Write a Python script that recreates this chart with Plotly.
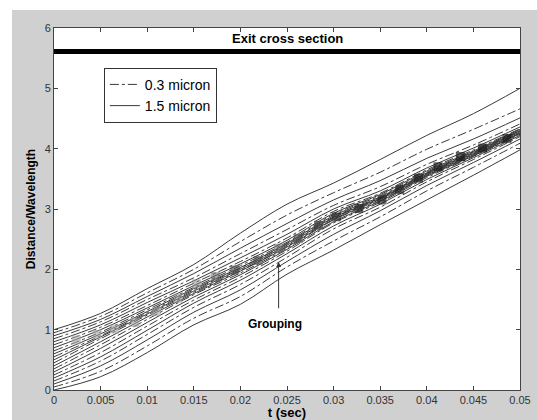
import plotly.graph_objects as go

t = [0, 0.005, 0.01, 0.015, 0.02, 0.025, 0.03, 0.035, 0.04, 0.045, 0.05]

# 1.5 micron paths (solid), top to bottom
solid_paths = [
    [1.00, 1.27, 1.68, 2.08, 2.60, 3.08, 3.43, 3.82, 4.22, 4.58, 5.00],
    [0.90, 1.17, 1.55, 1.93, 2.35, 2.76, 3.15, 3.47, 3.84, 4.16, 4.51],
    [0.80, 1.08, 1.45, 1.81, 2.19, 2.58, 3.00, 3.30, 3.68, 4.01, 4.36],
    [0.70, 1.00, 1.36, 1.73, 2.09, 2.48, 2.93, 3.24, 3.63, 3.96, 4.32],
    [0.60, 0.93, 1.30, 1.68, 2.03, 2.43, 2.89, 3.20, 3.60, 3.94, 4.30],
    [0.50, 0.88, 1.26, 1.64, 2.00, 2.40, 2.86, 3.18, 3.58, 3.92, 4.28],
    [0.40, 0.80, 1.21, 1.60, 1.97, 2.37, 2.83, 3.16, 3.56, 3.90, 4.26],
    [0.30, 0.69, 1.12, 1.54, 1.91, 2.33, 2.79, 3.13, 3.54, 3.88, 4.25],
    [0.20, 0.55, 0.99, 1.44, 1.82, 2.26, 2.72, 3.08, 3.49, 3.85, 4.22],
    [0.10, 0.40, 0.83, 1.29, 1.66, 2.13, 2.58, 2.97, 3.39, 3.77, 4.16],
    [0.00, 0.22, 0.62, 1.08, 1.42, 1.92, 2.32, 2.74, 3.15, 3.56, 3.98],
]

# 0.3 micron paths (dash-dot), top to bottom
dashdot_paths = [
    [0.95, 1.22, 1.61, 2.00, 2.46, 2.90, 3.27, 3.61, 3.99, 4.32, 4.66],
    [0.85, 1.13, 1.50, 1.86, 2.26, 2.66, 3.06, 3.37, 3.74, 4.06, 4.41],
    [0.75, 1.04, 1.40, 1.77, 2.13, 2.52, 2.96, 3.26, 3.65, 3.98, 4.33],
    [0.65, 0.96, 1.33, 1.70, 2.06, 2.45, 2.91, 3.22, 3.61, 3.95, 4.30],
    [0.55, 0.90, 1.28, 1.66, 2.02, 2.42, 2.87, 3.19, 3.59, 3.93, 4.29],
    [0.45, 0.85, 1.24, 1.62, 1.98, 2.38, 2.85, 3.17, 3.57, 3.91, 4.27],
    [0.35, 0.75, 1.17, 1.58, 1.94, 2.35, 2.82, 3.14, 3.55, 3.89, 4.26],
    [0.25, 0.62, 1.06, 1.49, 1.87, 2.30, 2.77, 3.11, 3.52, 3.87, 4.24],
    [0.15, 0.48, 0.92, 1.37, 1.75, 2.20, 2.67, 3.03, 3.45, 3.82, 4.20],
    [0.05, 0.31, 0.73, 1.19, 1.55, 2.04, 2.47, 2.87, 3.30, 3.69, 4.09],
]

# particle groups along the centre
blob_t = [0.0024, 0.0046, 0.0065, 0.0087, 0.011, 0.0133, 0.0153, 0.0173, 0.0194, 0.0219, 0.0241,
          0.0262, 0.0284, 0.0303, 0.0327, 0.0352, 0.0371, 0.0391, 0.0412, 0.0436, 0.046, 0.0486]
blob_y = [0.83, 0.92, 1.01, 1.12, 1.30, 1.52, 1.76, 1.88, 1.99, 2.15, 2.35,
          2.51, 2.73, 2.87, 3.01, 3.15, 3.32, 3.51, 3.70, 3.87, 4.01, 4.17]
blob_shade = [165, 160, 160, 155, 155, 150, 140, 100, 80, 80, 100,
              80, 60, 40, 35, 30, 30, 25, 20, 20, 20, 20]

exit_y = 5.61
line_col = '#3a3a3a'
font = 'Liberation Sans, Arial, sans-serif'

fig = go.Figure()

for i, ys in enumerate(dashdot_paths):
    fig.add_trace(go.Scatter(x=t, y=ys, mode='lines', line_shape='spline',
                             line=dict(color=line_col, width=1, dash='dashdot'),
                             name='0.3 micron', showlegend=(i == 0)))
for i, ys in enumerate(solid_paths):
    fig.add_trace(go.Scatter(x=t, y=ys, mode='lines', line_shape='spline',
                             line=dict(color=line_col, width=1),
                             name='1.5 micron', showlegend=(i == 0)))

fig.add_trace(go.Scatter(
    x=blob_t, y=blob_y, mode='markers', showlegend=False,
    marker=dict(symbol='square', size=9,
                opacity=[0.55 if s > 90 else 0.65 for s in blob_shade],
                color=['rgb({0},{0},{0})'.format(s) for s in blob_shade], line=dict(width=0))
))

fig.add_shape(type='line', xref='x', yref='y', x0=0, x1=0.05, y0=exit_y, y1=exit_y,
              line=dict(color='black', width=5))
# white strips above and left of the grey frame
fig.add_shape(type='rect', xref='paper', yref='paper', x0=-0.2, x1=1.1,
              y0=(390 - 10) / 362, y1=1.2, fillcolor='white', line_width=0, layer='below')
fig.add_shape(type='rect', xref='paper', yref='paper', x0=-0.2, x1=(12 - 54) / 466,
              y0=-0.2, y1=1.2, fillcolor='white', line_width=0, layer='below')

fig.add_annotation(x=0.025, y=5.82, text='<b>Exit cross section</b>', showarrow=False,
                   font=dict(size=13, color='black', family=font))
fig.add_annotation(x=0.0241, y=2.12, ax=0.0241, ay=1.33, axref='x', ayref='y', text='',
                   showarrow=True, arrowhead=2, arrowsize=1, arrowwidth=1, arrowcolor='#333')
fig.add_annotation(x=0.0237, y=1.09, text='<b>Grouping</b>', showarrow=False,
                   font=dict(size=12, color='black', family=font))

axis_common = dict(showline=True, linecolor='#444', linewidth=1, mirror='ticks',
                   ticks='inside', ticklen=4, tickcolor='#444', showgrid=False, zeroline=False,
                   automargin=False, tickfont=dict(size=11, color='#333', family=font))

fig.update_xaxes(range=[0, 0.05], tickvals=[0, 0.005, 0.01, 0.015, 0.02, 0.025, 0.03, 0.035, 0.04, 0.045, 0.05],
                 ticktext=['0', '0.005', '0.01', '0.015', '0.02', '0.025', '0.03', '0.035', '0.04', '0.045', '0.05'],
                 title=dict(text='<b>t (sec)</b>', font=dict(size=13, color='black', family=font), standoff=2),
                 **axis_common)
fig.update_yaxes(range=[0, 6], tickvals=[0, 1, 2, 3, 4, 5, 6],
                 title=dict(text='<b>Distance/Wavelength</b>', font=dict(size=12, color='black', family=font), standoff=6),
                 **axis_common)

fig.update_layout(
    width=537, height=420,
    margin=dict(l=54, r=17, t=28, b=30),
    paper_bgcolor='#d0d0d0', plot_bgcolor='white',
    legend=dict(x=0.107, y=0.89, xanchor='left', yanchor='top', bgcolor='white',
                bordercolor='#333', borderwidth=1, font=dict(size=14, color='black', family=font),
                tracegroupgap=0, itemwidth=30),
)

fig.write_html("out.html", config={'displayModeBar': False},
               post_script="document.body.style.margin='0';")
